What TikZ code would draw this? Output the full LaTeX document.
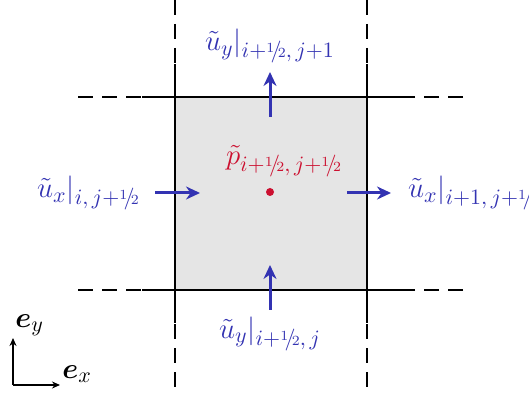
\documentclass[tikz,border=0pt]{standalone}
\usepackage{amsmath}
\usepackage{amssymb}
\usepackage{bm}
\usetikzlibrary{arrows.meta,positioning}
\definecolor{velblue}{RGB}{51,51,178}
\definecolor{presred}{RGB}{204,16,48}
\newcommand{\hlf}{\mbox{\raisebox{0.35ex}{$\scriptscriptstyle 1$}}\!/\!{\scriptscriptstyle 2}}

\begin{document}
\begin{tikzpicture}[x=0.5pt,y=-0.5pt,
        vel/.style={velblue,line width=1.5pt,-{Stealth[length=7pt,width=6.5pt]}},
        face/.style={line width=1pt},
        facext/.style={line width=1pt,dash pattern=on 7.5pt off 4.5pt},
        every node/.style={font=\fontsize{15}{18}\selectfont}]
    \useasboundingbox (0,0) rectangle (529,394);
    \fill[gray!20] (175,97) rectangle (367,290);
    % cell faces
    \foreach \x in {175,367}{
        \draw[face] (\x,64) -- (\x,323);
        \draw[facext] (\x,0) -- (\x,64);
        \draw[facext] (\x,387) -- (\x,323);
    }
    \foreach \y in {97,290}{
        \draw[face] (142,\y) -- (400,\y);
        \draw[facext] (78,\y) -- (142,\y);
        \draw[facext] (463,\y) -- (400,\y);
    }
    % pressure
    \node[circle,fill=presred,inner sep=0pt,minimum size=4pt] (dot) at (270,192) {};
    \node[presred,above=2pt of dot,xshift=7pt] (plab) {$\tilde{p}_{i+\hlf,\,j+\hlf}$};
    % velocities
    \coordinate (wtail) at (155,193);
    \coordinate (whead) at (200,193);
    \coordinate (etail) at (347,193);
    \coordinate (ehead) at (391,193);
    \coordinate (ntail) at (270,117);
    \coordinate (nhead) at (270,72);
    \coordinate (stail) at (270,310);
    \coordinate (shead) at (270,265);
    \draw[vel] (wtail) -- (whead);
    \draw[vel] (etail) -- (ehead);
    \draw[vel] (ntail) -- (nhead);
    \draw[vel] (stail) -- (shead);
    \node[velblue,left=4pt of wtail] (wlab) {$\tilde{u}_x|_{i,\,j+\hlf}$};
    \node[velblue,right=5pt of ehead,anchor=west] (elab) {$\tilde{u}_x|_{i+1,\,j+\hlf}$};
    \node[velblue,above=1pt of nhead] (nlab) {$\tilde{u}_y|_{i+\hlf,\,j+1}$};
    \node[velblue,below=0pt of stail] (slab) {$\tilde{u}_y|_{i+\hlf,\,j}$};
    % basis
    \coordinate (orig) at (13,385);
    \coordinate (ey) at (13,338);
    \coordinate (ex) at (60,385);
    \draw[line width=0.8pt,-{Stealth[length=4pt,width=3.5pt]}] (orig) -- (ey);
    \draw[line width=0.8pt,-{Stealth[length=4pt,width=3.5pt]}] (orig) -- (ex);
    \node[anchor=south west,inner sep=1pt] (eylab) at (ey) {$\bm{e}_y$};
    \node[anchor=south west,inner sep=1pt] (exlab) at (ex) {$\bm{e}_x$};
\end{tikzpicture}
\end{document}
